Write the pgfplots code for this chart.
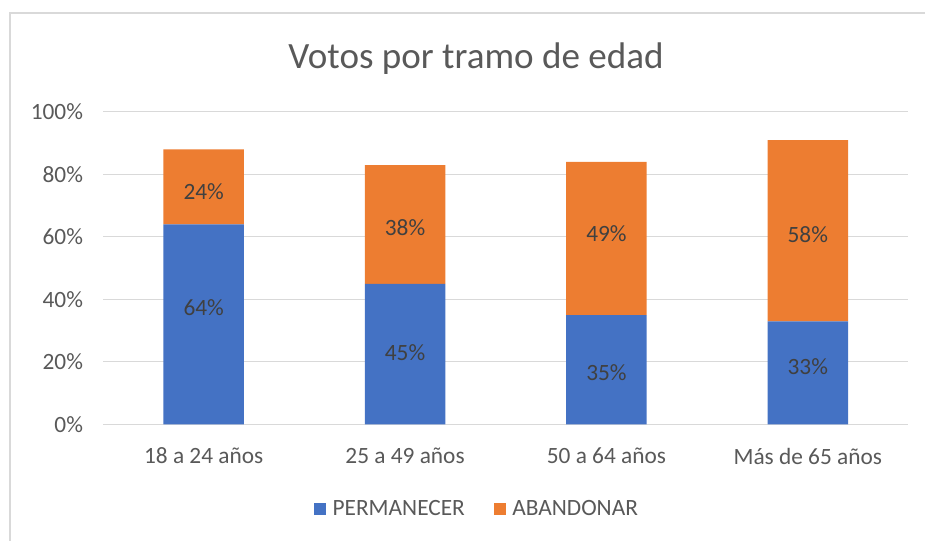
\documentclass[border=0pt]{standalone}
\usepackage{pgfplots}
\pgfplotsset{compat=1.18}
\usepackage{pgfplotstable}
\usepackage{fontspec}
\setmainfont{Carlito}
\definecolor{cblue}{HTML}{4472C4}
\definecolor{corange}{HTML}{ED7D31}
\definecolor{cgrid}{HTML}{D9D9D9}
\definecolor{ctext}{HTML}{595959}
\definecolor{clabel}{HTML}{404040}
\pgfplotstableread{
x perm aband
0 64 24
1 45 38
2 35 49
3 33 58
}\datatable
\pgfplotstableread{
x y v
0 37.3 64
1 22.9 45
2 16.5 35
3 18.4 33
0 74.4 24
1 62.9 38
2 61.0 49
3 60.6 58
}\labtable
\newcommand{\tfont}{\fontsize{17.5}{21}\selectfont}
\pgfplotsset{sq/.style={legend image code/.code={\fill[##1] (0pt,-4.3pt) rectangle (8.6pt,4.3pt);}}}
\begin{document}
\begin{tikzpicture}
\useasboundingbox (0,0) rectangle (693.75pt,405.75pt);
\draw[cgrid, line width=0.9pt] (7.5pt,0) -- (7.5pt,396pt) -- (700pt,396pt);
\node[text=ctext, font=\fontsize{27.8}{33}\selectfont] at (357pt,362pt) {Votos por tramo de edad};
\begin{axis}[
  at={(77.25pt,87.375pt)}, anchor=south west,
  scale only axis, width=604.1pt, height=234.4pt,
  xmin=-0.5, xmax=3.5, ymin=0, ymax=100,
  ybar stacked, bar width=0.4,
  xtick={0,1,2,3},
  xticklabels={18 a 24 años, 25 a 49 años, 50 a 64 años, Más de 65 años},
  ytick={0,20,40,60,80,100},
  yticklabels={0\%,20\%,40\%,60\%,80\%,100\%},
  ymajorgrids, grid style={cgrid, line width=0.75pt},
  axis line style={draw=none},
  major tick length=0pt,
  tick label style={font=\tfont, text=ctext},
  yticklabel style={xshift=-11.5pt},
  xticklabel style={yshift=-14pt},
  legend columns=2,
  legend style={at={(0.465,-0.27)}, anchor=center, draw=none, font=\tfont, text=ctext,
    /tikz/every odd column/.append style={column sep=3pt},
    /tikz/every even column/.append style={column sep=20pt}},
]
\addplot[fill=cblue, draw=none, sq] table[x=x,y=perm]{\datatable};
\addplot[fill=corange, draw=none, sq] table[x=x,y=aband]{\datatable};
\legend{PERMANECER, ABANDONAR}
\end{axis}
\begin{axis}[
  at={(77.25pt,87.375pt)}, anchor=south west,
  scale only axis, width=604.1pt, height=234.4pt,
  xmin=-0.5, xmax=3.5, ymin=0, ymax=100,
  hide axis,
]
\addplot[only marks, mark=none, point meta=explicit symbolic,
  nodes near coords={\pgfplotspointmeta\%},
  nodes near coords style={anchor=center, font=\tfont, text=clabel}]
  table[x=x,y=y,meta=v]{\labtable};
\end{axis}
\end{tikzpicture}
\end{document}
